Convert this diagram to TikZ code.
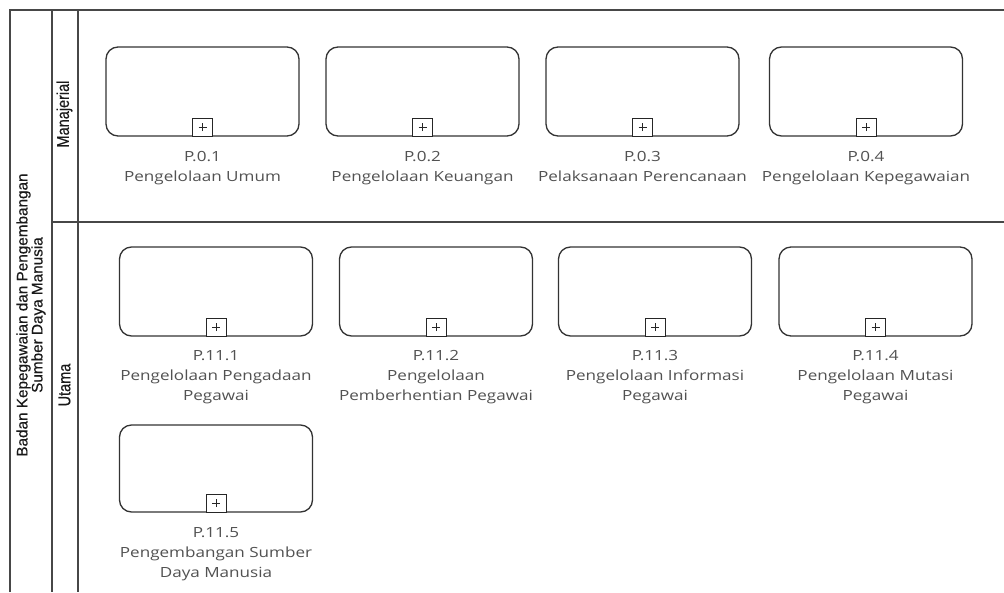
\documentclass[tikz,border=0pt]{standalone}
\usepackage{fontspec}
\setmainfont{Open Sans}
\newfontfamily\lanefont{Liberation Sans}[FakeBold=0.4]
\usetikzlibrary{positioning}
\newcommand{\sx}[1]{\scalebox{1.22}[1]{#1}}
\newcommand{\sv}[1]{\scalebox{1}[1.18]{#1}}
\begin{document}
\begin{tikzpicture}[x=1pt,y=-1pt,
 poolline/.style={draw=black!72, line width=1.3pt},
 task/.style={draw=black!80, line width=1.3pt, rounded corners=12pt, minimum width=193pt, minimum height=89pt, inner sep=0pt, fill=white},
 plusbox/.style={draw=black!85, line width=0.9pt, minimum width=20pt, minimum height=18pt, inner sep=0pt, anchor=south, fill=white,
   path picture={\draw[line width=0.9pt] ([xshift=-4pt]path picture bounding box.center) -- ([xshift=4pt]path picture bounding box.center);
                 \draw[line width=0.9pt] ([yshift=-4pt]path picture bounding box.center) -- ([yshift=4pt]path picture bounding box.center);}},
 lbl/.style={anchor=north, align=center, inner sep=0pt, text=black!68, font=\fontsize{14}{20}\selectfont},
 lanelbl/.style={rotate=90, align=center, inner sep=0pt, text=black!90, font=\lanefont\fontsize{14.5}{14}\selectfont},
 poollbl/.style={rotate=90, align=center, inner sep=0pt, text=black!90, font=\lanefont\fontsize{15.3}{15}\selectfont}
]
\useasboundingbox (0,0) rectangle (1004,592);
\fill[white] (0,0) rectangle (1004,592);
% pool and lanes
\coordinate (pTL) at (10,10);
\coordinate (pBL) at (10,592);
\coordinate (pTR) at (1004,10);
\coordinate (c1T) at (52,10);
\coordinate (c1B) at (52,592);
\coordinate (c2T) at (78,10);
\coordinate (c2B) at (78,592);
\coordinate (dL) at (52,222);
\coordinate (dR) at (1004,222);
\draw[poolline] (pBL) -- (pTL) -- (pTR);
\draw[poolline] (c1T) -- (c1B);
\draw[poolline] (c2T) -- (c2B);
\draw[poolline] (dL) -- (dR);
\node[poollbl] (pool) at (31,315) {Badan Kepegawaian dan Pengembangan\\Sumber Daya Manusia};
\node[lanelbl] (lane1) at (64.5,114) {\sv{Manajerial}};
\node[lanelbl] (lane2) at (64.5,385) {\sv{Utama}};
% row 1
\node[task] (b01) at (202.5,91.5) {};
\node[task] (b02) at (422.5,91.5) {};
\node[task] (b03) at (642.5,91.5) {};
\node[task] (b04) at (866,91.5) {};
% row 2
\node[task] (b111) at (216,291.5) {};
\node[task] (b112) at (436,291.5) {};
\node[task] (b113) at (655,291.5) {};
\node[task] (b114) at (875.5,291.5) {};
% row 3
\node[task, minimum height=87pt] (b115) at (216,468.5) {};
% markers
\foreach \b in {b01,b02,b03,b04,b111,b112,b113,b114,b115}{
  \node[plusbox] (m\b) at (\b.south) {};
}
% labels
\node[lbl] (t01) at ([yshift=-14pt]b01.south) {\sx{P.0.1}\\\sx{Pengelolaan Umum}};
\node[lbl] (t02) at ([yshift=-14pt]b02.south) {\sx{P.0.2}\\\sx{Pengelolaan Keuangan}};
\node[lbl] (t03) at ([yshift=-14pt]b03.south) {\sx{P.0.3}\\\sx{Pelaksanaan Perencanaan}};
\node[lbl] (t04) at ([yshift=-14pt]b04.south) {\sx{P.0.4}\\\sx{Pengelolaan Kepegawaian}};
\node[lbl] (t111) at ([yshift=-14pt]b111.south) {\sx{P.11.1}\\\sx{Pengelolaan Pengadaan}\\\sx{Pegawai}};
\node[lbl] (t112) at ([yshift=-14pt]b112.south) {\sx{P.11.2}\\\sx{Pengelolaan}\\\sx{Pemberhentian Pegawai}};
\node[lbl] (t113) at ([yshift=-14pt]b113.south) {\sx{P.11.3}\\\sx{Pengelolaan Informasi}\\\sx{Pegawai}};
\node[lbl] (t114) at ([yshift=-14pt]b114.south) {\sx{P.11.4}\\\sx{Pengelolaan Mutasi}\\\sx{Pegawai}};
\node[lbl] (t115) at ([yshift=-15pt]b115.south) {\sx{P.11.5}\\\sx{Pengembangan Sumber}\\\sx{Daya Manusia}};
\end{tikzpicture}
\end{document}
